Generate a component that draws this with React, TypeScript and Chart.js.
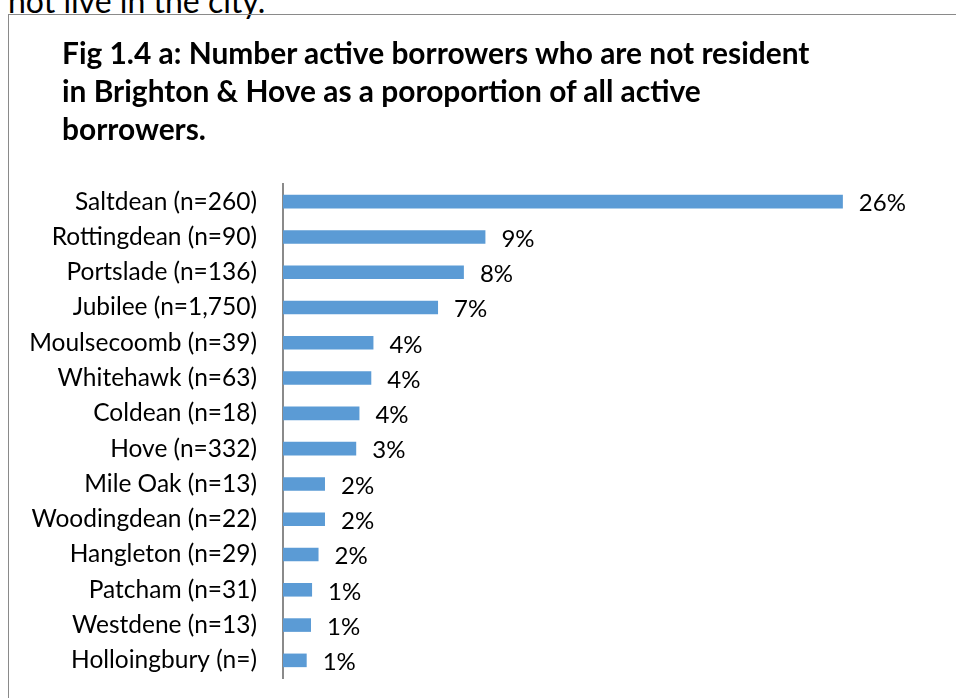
import React, { useEffect, useRef } from "react";
import { Chart, registerables } from "chart.js";

Chart.register(...registerables);

const categories = [
  "Saltdean (n=260)",
  "Rottingdean (n=90)",
  "Portslade (n=136)",
  "Jubilee (n=1,750)",
  "Moulsecoomb (n=39)",
  "Whitehawk (n=63)",
  "Coldean (n=18)",
  "Hove (n=332)",
  "Mile Oak (n=13)",
  "Woodingdean (n=22)",
  "Hangleton (n=29)",
  "Patcham (n=31)",
  "Westdene (n=13)",
  "Holloingbury (n=)",
];

const percentValues = [26, 9.4, 8.4, 7.2, 4.2, 4.1, 3.55, 3.4, 1.95, 1.95, 1.65, 1.35, 1.3, 1.1];

const titleLines = [
  "Fig 1.4 a: Number active borrowers who are not resident",
  "in Brighton & Hove as a poroportion of all active",
  "borrowers.",
];

const FONT = "Lato, 'Open Sans', sans-serif";

export default function App() {
  const canvasRef = useRef<HTMLCanvasElement | null>(null);

  useEffect(() => {
    if (!canvasRef.current) return;
    const labelPlugin = {
      id: "valueLabels",
      afterDatasetsDraw(chart: any) {
        const ctx = chart.ctx;
        const meta = chart.getDatasetMeta(0);
        ctx.save();
        ctx.font = `24px ${FONT}`;
        ctx.fillStyle = "#000000";
        ctx.textAlign = "left";
        ctx.textBaseline = "middle";
        meta.data.forEach((bar: any, i: number) => {
          const v = chart.data.datasets[0].data[i] as number;
          ctx.fillText(Math.round(v) + "%", bar.x + 16, bar.y + 2);
        });
        ctx.restore();
      },
    };

    const chart = new Chart(canvasRef.current, {
      type: "bar",
      data: {
        labels: categories,
        datasets: [
          {
            data: percentValues,
            backgroundColor: "#5B9BD5",
            borderWidth: 0,
            categoryPercentage: 1,
            barPercentage: 0.385,
          },
        ],
      },
      options: {
        indexAxis: "y",
        animation: false,
        responsive: false,
        maintainAspectRatio: false,
        layout: { padding: { top: 169, bottom: 20, left: 0, right: 27 } },
        plugins: {
          legend: { display: false },
          tooltip: { enabled: false },
          title: { display: false },
        },
        scales: {
          x: {
            display: false,
            min: 0,
            max: 30,
          },
          y: {
            grid: { display: false, drawTicks: false },
            border: { display: true, color: "#8a8a8a", width: 2 },
            ticks: {
              color: "#000000",
              padding: 26,
              font: { family: FONT, size: 24.5 },
            },
            afterFit(scale: any) {
              scale.width = 274;
              scale.paddingTop = 0;
              scale.paddingBottom = 0;
            },
          },
        },
      },
      plugins: [labelPlugin],
    });
    return () => chart.destroy();
  }, []);

  return (
    <div
      style={{
        position: "absolute",
        left: 0,
        top: 0,
        width: 956,
        height: 698,
        overflow: "hidden",
        background: "#ffffff",
      }}
    >
      <div
        style={{
          position: "absolute",
          left: 8,
          top: -15,
          fontFamily: FONT,
          fontSize: 32,
          lineHeight: "32px",
          color: "#000",
          whiteSpace: "nowrap",
        }}
      >
        not live in the city.
      </div>
      <div
        style={{
          position: "absolute",
          left: 8,
          top: 14,
          width: 1000,
          height: 1000,
          border: "1px solid #8a8a8a",
          boxSizing: "border-box",
        }}
      />
      <canvas
        ref={canvasRef}
        width={947}
        height={683}
        style={{ position: "absolute", left: 9, top: 15, width: 947, height: 683 }}
      />
      <div
        style={{
          position: "absolute",
          left: 62,
          top: 33,
          fontFamily: FONT,
          fontWeight: 700,
          fontSize: 29.9,
          lineHeight: "38px",
          color: "#000",
          whiteSpace: "nowrap",
        }}
      >
        {titleLines.map((l, i) => (
          <div key={i}>{l}</div>
        ))}
      </div>
    </div>
  );
}
